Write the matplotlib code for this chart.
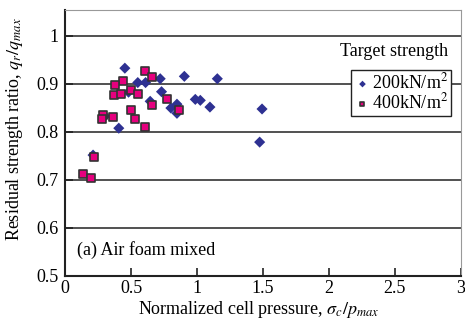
import numpy as np
import matplotlib.pyplot as plt
from matplotlib.ticker import FuncFormatter

plt.rcParams['font.family'] = ['Liberation Serif', 'DejaVu Serif']
plt.rcParams['mathtext.fontset'] = 'stix'

# 200 kN/m2 series (diamonds)
x200 = [0.453, 0.551, 0.610, 0.721, 0.904, 1.154, 0.481, 0.731, 0.645, 0.848,
        0.802, 0.848, 0.987, 1.025, 1.098, 1.493, 1.475, 0.407, 0.301, 0.212]
y200 = [0.932, 0.902, 0.902, 0.910, 0.915, 0.910, 0.882, 0.883, 0.863, 0.857,
        0.849, 0.838, 0.867, 0.865, 0.851, 0.847, 0.778, 0.807, 0.832, 0.751]

# 400 kN/m2 series (squares)
x400 = [0.605, 0.660, 0.438, 0.377, 0.367, 0.422, 0.503, 0.549, 0.769, 0.660,
        0.863, 0.503, 0.291, 0.283, 0.364, 0.531, 0.605, 0.217, 0.134, 0.200]
y400 = [0.926, 0.914, 0.906, 0.896, 0.876, 0.879, 0.886, 0.879, 0.868, 0.856,
        0.845, 0.845, 0.835, 0.826, 0.831, 0.827, 0.810, 0.747, 0.712, 0.704]

fs = 13

fig = plt.figure(figsize=(4.65, 3.25), dpi=100)
ax = fig.add_axes([0.14, 0.152, 0.851, 0.817])

for yv in [0.6, 0.7, 0.8, 0.9, 1.0]:
    ax.axhline(yv, color='#333333', lw=1.2, zorder=1)

ax.scatter(x200, y200, marker='D', s=32, color='#2e3192', edgecolors='none',
           zorder=3, label='200kN/m$^2$')
ax.scatter(x400, y400, marker='s', s=32, color='#e6007e', edgecolors='#333333',
           linewidths=1.2, zorder=4, label='400kN/m$^2$')

ax.set_xlim(0, 3)
ax.set_ylim(0.5, 1.053)
ax.set_xticks([0, 0.5, 1, 1.5, 2, 2.5, 3])
ax.set_yticks([0.5, 0.6, 0.7, 0.8, 0.9, 1.0])
fmt = FuncFormatter(lambda v, p: '%g' % v)
ax.xaxis.set_major_formatter(fmt)
ax.yaxis.set_major_formatter(fmt)
ax.tick_params(direction='in', length=6, width=1.2, labelsize=fs, color='#222222')
ax.tick_params(axis='x', pad=3)
ax.tick_params(axis='y', pad=5)

ax.spines['left'].set_color('#222222')
ax.spines['left'].set_linewidth(1.5)
ax.spines['bottom'].set_color('#222222')
ax.spines['bottom'].set_linewidth(1.5)
ax.spines['top'].set_color('#999999')
ax.spines['right'].set_color('#999999')

ax.set_xlabel(r'Normalized cell pressure, $\sigma_c/p_{max}$', fontsize=fs)
ax.set_ylabel(r'Residual strength ratio, $q_r/q_{max}$', fontsize=fs)
ax.xaxis.set_label_coords(0.49, -0.088)
ax.yaxis.set_label_coords(-0.101, 0.552)

ax.text(0.968, 0.843, 'Target strength', fontsize=fs, ha='right', va='center',
        transform=ax.transAxes)
ax.text(0.03, 0.097, '(a) Air foam mixed', fontsize=fs, ha='left', va='center',
        transform=ax.transAxes)

leg = ax.legend(loc='upper right', bbox_to_anchor=(0.974, 0.774), fontsize=fs,
                frameon=True, fancybox=False, edgecolor='#222222',
                handletextpad=0.0, borderpad=0.15, labelspacing=0.0,
                handlelength=1.0, borderaxespad=0.0, markerscale=0.6)
leg.get_frame().set_linewidth(1.0)
leg.get_frame().set_alpha(1)

fig.savefig('out.png', dpi=100)
